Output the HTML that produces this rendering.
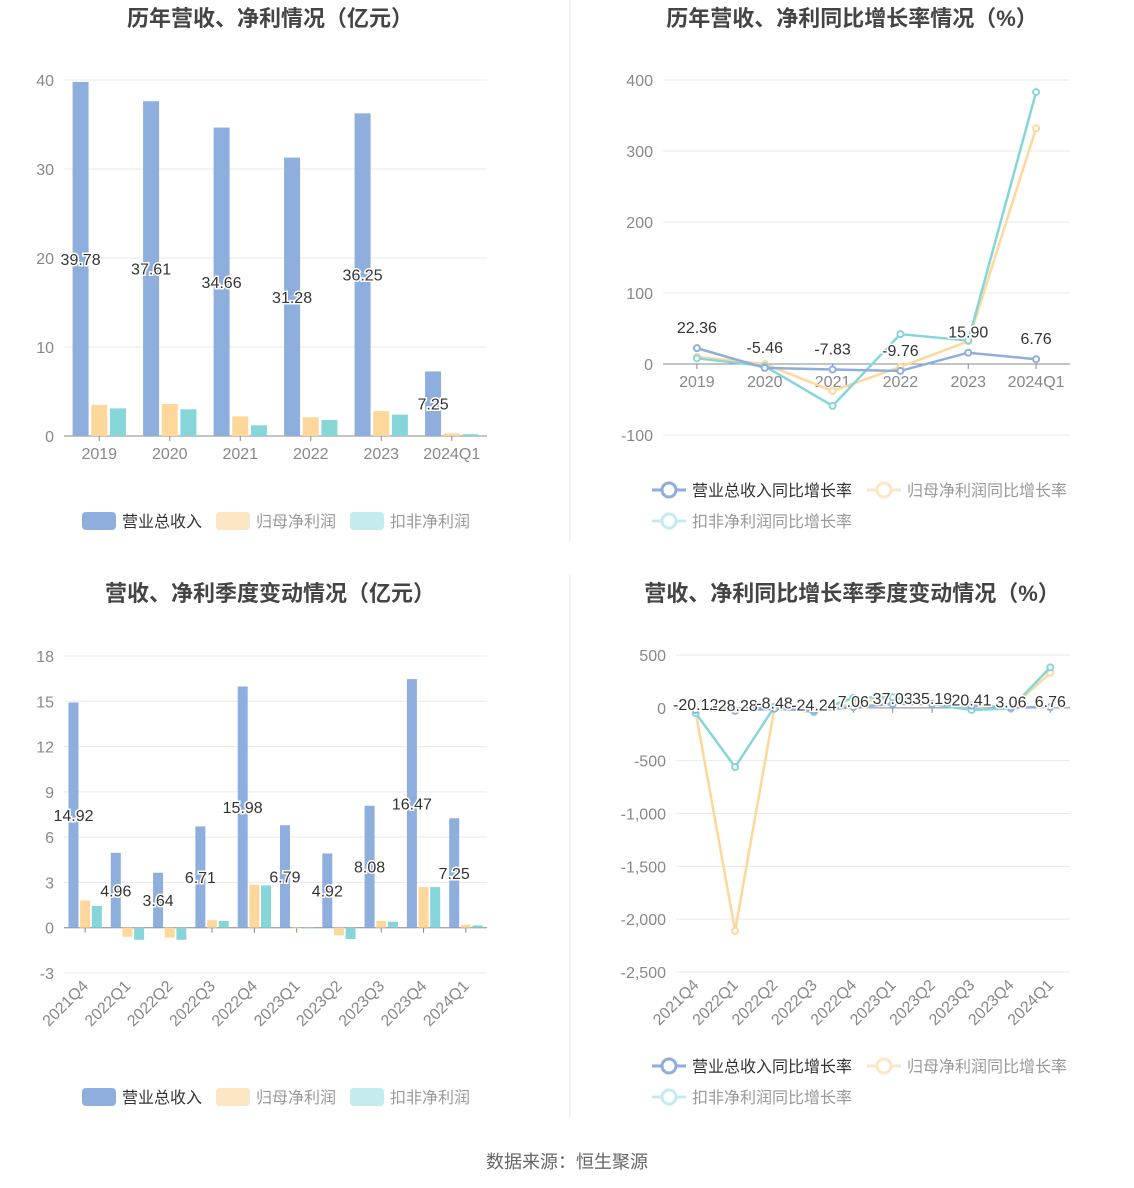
<!DOCTYPE html>
<html><head><meta charset="utf-8">
<style>
body{margin:0;background:#fff;width:1134px;height:1188px;overflow:hidden;font-family:"Liberation Sans","Noto Sans CJK SC",sans-serif}
svg{position:absolute;left:0;top:0}
</style></head>
<body>
<svg id="s" width="1134" height="1188" xmlns="http://www.w3.org/2000/svg" font-family="Liberation Sans, Noto Sans CJK SC, sans-serif">
<line x1="570" y1="0" x2="570" y2="542" stroke="#e6e6e6"/>
<line x1="570" y1="575" x2="570" y2="1118" stroke="#e6e6e6"/>
<text x="270" y="26" text-anchor="middle" font-size="22" font-weight="bold" fill="#444">历年营收、净利情况（亿元）</text>
<text x="852" y="26" text-anchor="middle" font-size="22" font-weight="bold" fill="#444">历年营收、净利同比增长率情况（%）</text>
<text x="270" y="601" text-anchor="middle" font-size="22" font-weight="bold" fill="#444">营收、净利季度变动情况（亿元）</text>
<text x="852" y="601" text-anchor="middle" font-size="22" font-weight="bold" fill="#444">营收、净利同比增长率季度变动情况（%）</text>
<text x="567" y="1168" text-anchor="middle" font-size="18" fill="#666">数据来源：恒生聚源</text>
</svg>
<script>
const yearCats=['2019','2020','2021','2022','2023','2024Q1'];
const yearRevenue=[39.78,37.61,34.66,31.28,36.25,7.25];
const yearNetProfit=[3.5,3.6,2.2,2.1,2.8,0.3];
const yearDeductProfit=[3.1,3.0,1.2,1.8,2.4,0.2];
const yearTicks=[0,10,20,30,40];
const yearRevGrowth=[22.36,-5.46,-7.83,-9.76,15.90,6.76];
const yearNetGrowth=[10,0,-38,-4,32,332];
const yearDedGrowth=[8,-3,-59,42,33,383];
const yearGrowthTicks=[-100,0,100,200,300,400];
const qCats=['2021Q4','2022Q1','2022Q2','2022Q3','2022Q4','2023Q1','2023Q2','2023Q3','2023Q4','2024Q1'];
const qRevenue=[14.92,4.96,3.64,6.71,15.98,6.79,4.92,8.08,16.47,7.25];
const qNetProfit=[1.8,-0.6,-0.65,0.5,2.85,-0.05,-0.5,0.45,2.7,0.2];
const qDeductProfit=[1.45,-0.8,-0.8,0.45,2.8,-0.05,-0.75,0.4,2.7,0.15];
const qTicks=[-3,0,3,6,9,12,15,18];
const qRevGrowth=[-20.12,-28.28,-8.48,-24.24,7.06,37.03,35.19,20.41,3.06,6.76];
const qNetGrowth=[-40,-2110,0,-40,40,100,40,10,-5,332];
const qDedGrowth=[-50,-560,10,-40,95,100,35,-20,-5,383];
const qGrowthTicks=[-2500,-2000,-1500,-1000,-500,0,500];

const S=document.getElementById('s');const NS='http://www.w3.org/2000/svg';
function mk(t,a,txt){const e=document.createElementNS(NS,t);for(const k in a)e.setAttribute(k,a[k]);if(txt!==undefined)e.textContent=txt;S.appendChild(e);return e;}
const BLUE='#8eaedd',YEL='#fdd89a',TEAL='#86d6d9';
function fmtTick(v){return v.toLocaleString('en-US');}

function axes(x0,x1,yTop,yBot,ticks,cats,rot,prefix){
  const lo=ticks[0],hi=ticks[ticks.length-1];
  const y=v=>yBot-(v-lo)/(hi-lo)*(yBot-yTop);
  ticks.forEach(t=>{
    const g=mk('line',{x1:x0,x2:x1,y1:y(t),y2:y(t),stroke:t===0?'#888':'#e6e9f2'});
    
    
    const l=mk('text',{x:x0-10,y:y(t)+6,'text-anchor':'end','font-size':16,fill:'#888'},fmtTick(t));
    
    
  });
  const bw=(x1-x0)/cats.length;
  const cx=i=>x0+bw*(i+0.5);
  cats.forEach((c,i)=>{
    const tk=mk('line',{x1:cx(i),x2:cx(i),y1:y(0),y2:y(0)+5,stroke:'#888'});
    
    
    let l;
    if(rot){l=mk('text',{x:cx(i)+4,y:yBot+14,'text-anchor':'end','font-size':16,fill:'#888',transform:`rotate(-45 ${cx(i)+4} ${yBot+14})`},c);}
    else{l=mk('text',{x:cx(i),y:y(0)+23,'text-anchor':'middle','font-size':16,fill:'#888'},c);}
    
    
  });
  return {y,cx,bw};
}

function barChart(x0,x1,yTop,yBot,ticks,cats,rev,net,ded,rot,prefix,bwid,legY){
  const a=axes(x0,x1,yTop,yBot,ticks,cats,rot,prefix);
  const gap=bwid/6;
  [[rev,BLUE,'revenue'],[net,YEL,'net-profit'],[ded,TEAL,'deducted-profit']].forEach(([arr,col,nm],k)=>{
    arr.forEach((v,i)=>{
      const x=a.cx(i)+(k-1)*(bwid+gap)-bwid/2;
      const y1=a.y(Math.max(v,0)),y2=a.y(Math.min(v,0));
      const r=mk('rect',{x:x,y:y1,width:bwid,height:Math.max(y2-y1,0.5),fill:col});
      
      
    });
  });
  rev.forEach((v,i)=>{
    const x=a.cx(i)-(bwid+gap);
    const t=mk('text',{x:x,y:a.y(v/2)+6,'text-anchor':'middle','font-size':16,fill:'#333',stroke:'#fff','stroke-width':3,'paint-order':'stroke'},v.toFixed(2));
    
    
  });
  const items=[['营业总收入',BLUE,'#333',82],['归母净利润','#fde6c4','#999',216],['扣非净利润','#c4ecee','#999',350]];
  items.forEach(([n,c,tc,x])=>{
    const r=mk('rect',{x:x,y:legY-9,width:34,height:18,rx:4,fill:c});
    
    
    const t=mk('text',{x:x+40,y:legY+6,'font-size':16,fill:tc},n);
    
    
  });
}

function lineChart(x0,x1,yTop,yBot,ticks,cats,rev,net,ded,rot,prefix,legY,labOff){
  const a=axes(x0,x1,yTop,yBot,ticks,cats,rot,prefix);
  [[net,YEL,'net-growth'],[ded,TEAL,'deducted-growth'],[rev,BLUE,'revenue-growth']].forEach(([arr,col,nm])=>{
    const p=mk('polyline',{points:arr.map((v,i)=>a.cx(i)+','+a.y(v)).join(' '),fill:'none',stroke:col,'stroke-width':2.5});
    
    
    arr.forEach((v,i)=>{
      const c=mk('circle',{cx:a.cx(i),cy:a.y(v),r:3,fill:'#fff',stroke:col,'stroke-width':2});
      
      
    });
  });
  rev.forEach((v,i)=>{
    const t=mk('text',{x:a.cx(i),y:a.y(v)-labOff,'text-anchor':'middle','font-size':16,fill:'#333',stroke:'#fff','stroke-width':3,'paint-order':'stroke'},v.toFixed(2));
    
    
  });
  const items=[['营业总收入同比增长率',BLUE,'#333',652,legY],['归母净利润同比增长率','#fde6c4','#999',867,legY],['扣非净利润同比增长率','#c4ecee','#999',652,legY+31]];
  items.forEach(([n,c,tc,x,y])=>{
    const l=mk('line',{x1:x,x2:x+34,y1:y,y2:y,stroke:c,'stroke-width':3});
    
    
    const ci=mk('circle',{cx:x+17,cy:y,r:7,fill:'#fff',stroke:c,'stroke-width':3});
    
    
    const t=mk('text',{x:x+40,y:y+6,'font-size':16,fill:tc},n);
    
    
  });
}

barChart(64,487,80,436,yearTicks,yearCats,yearRevenue,yearNetProfit,yearDeductProfit,false,'annual-bar',16,521);
lineChart(663,1070,80,435,yearGrowthTicks,yearCats,yearRevGrowth,yearNetGrowth,yearDedGrowth,false,'annual-growth',490,15);
barChart(64,487,656,973,qTicks,qCats,qRevenue,qNetProfit,qDeductProfit,true,'quarterly-bar',10,1097);
lineChart(676,1070,655,972,qGrowthTicks,qCats,qRevGrowth,qNetGrowth,qDedGrowth,true,'quarterly-growth',1066,0);
</script>
</body></html>
